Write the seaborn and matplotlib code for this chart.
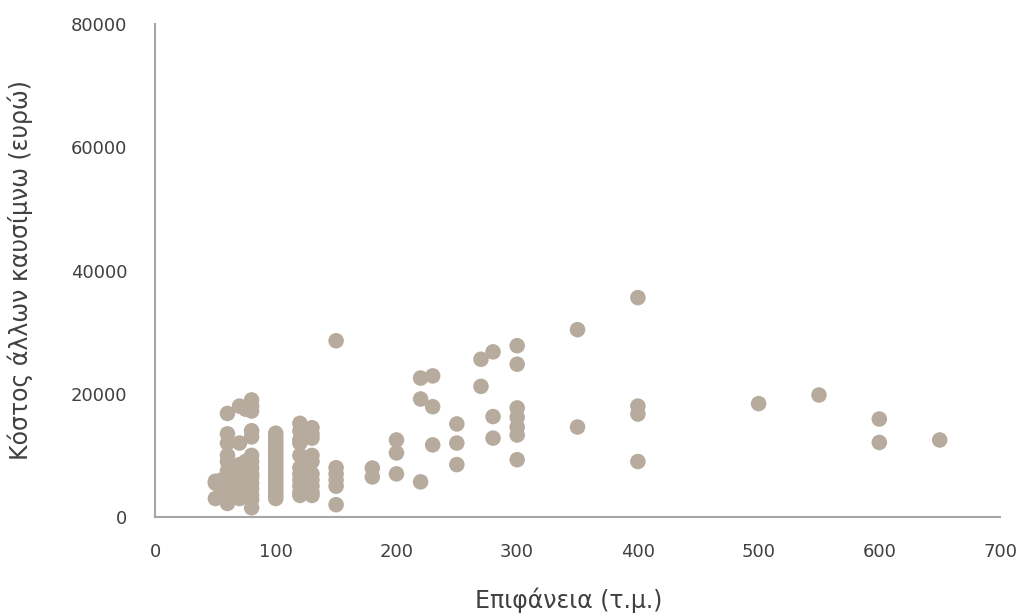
import pandas as pd
import matplotlib.pyplot as plt
import seaborn as sns

# Surface (sq.m.) and cost of other fuels (euro)
x_50 = [50, 50, 50, 55, 55]
y_50 = [5500, 3000, 5800, 4500, 6000]

x_60 = [60] * 10 + [65] * 2
y_60 = [16800, 13500, 12000, 10000, 9000, 7500, 6500, 5000, 3500, 2200, 8000, 4000]

x_70 = [70] * 7 + [75] * 3
y_70 = [18000, 12000, 8500, 7000, 5500, 4000, 3000, 17500, 9000, 6000]

x_80 = [80] * 15
y_80 = [19000, 18000, 17200, 14000, 13000, 10000, 9000, 8000, 7000, 6500,
        5500, 4500, 3500, 2800, 1500]

x_100 = [100] * 22
y_100 = [13600, 13000, 12500, 12000, 11500, 11000, 10500, 10000, 9500, 9000,
         8500, 8000, 7500, 7000, 6500, 6000, 5500, 5000, 4500, 4000, 3500, 3000]

x_120 = [120] * 11 + [130] * 10
y_120 = [15200, 14000, 12500, 12000, 10000, 8000, 7000, 6000, 5000, 4000, 3500,
         14500, 13500, 12800, 10000, 9000, 7000, 6000, 5000, 4000, 3500]

x_150 = [150] * 6 + [180] * 2 + [200] * 3
y_150 = [28600, 8000, 7000, 6000, 5000, 2000, 7950, 6500, 12500, 10400, 7000]

x_220 = [220] * 3 + [230] * 3 + [250] * 3 + [270] * 2 + [280] * 3
y_220 = [22550, 19150, 5700, 22900, 17900, 11700, 15100, 12000, 8500,
         25600, 21200, 26800, 16300, 12800]

x_300 = [300] * 7 + [350] * 2 + [400] * 4
y_300 = [27800, 24800, 17700, 16200, 14600, 13300, 9300, 30400, 14600,
         35600, 18000, 16700, 9000]

x_500 = [500, 550, 600, 600, 650]
y_500 = [18400, 19800, 15900, 12100, 12500]

area = x_50 + x_60 + x_70 + x_80 + x_100 + x_120 + x_150 + x_220 + x_300 + x_500
cost = y_50 + y_60 + y_70 + y_80 + y_100 + y_120 + y_150 + y_220 + y_300 + y_500

df = pd.DataFrame({'area': area, 'cost': cost})

sns.set_style('white')
plt.rcParams['font.family'] = ['DejaVu Sans']

fig = plt.figure(figsize=(10.24, 6.13), dpi=100)
ax = fig.add_axes([0.1514, 0.1566, 0.8252, 0.8042])

sns.scatterplot(data=df, x='area', y='cost', ax=ax, color='#B6AB9C',
                s=125, edgecolor='none', linewidth=0)

ax.set_xlim(0, 700)
ax.set_ylim(0, 80000)
ax.set_xticks(range(0, 701, 100))
ax.set_yticks(range(0, 80001, 20000))
ax.tick_params(axis='x', length=0, labelsize=13, colors='#404040', pad=19)
ax.tick_params(axis='y', length=0, labelsize=13, colors='#404040', pad=20)
ax.set_xlabel('Επιφάνεια (τ.μ.)', fontsize=17, color='#404040')
ax.set_ylabel('Κόστος άλλων καυσίμνω (ευρώ)', fontsize=17, color='#404040')
ax.xaxis.set_label_coords(0.49, -0.142)
ax.yaxis.set_label_coords(-0.145, 0.5)

for side in ['top', 'right']:
    ax.spines[side].set_visible(False)
for side in ['left', 'bottom']:
    ax.spines[side].set_color('#A6A6A6')
    ax.spines[side].set_linewidth(1.5)

fig.savefig('out.png', dpi=100)
